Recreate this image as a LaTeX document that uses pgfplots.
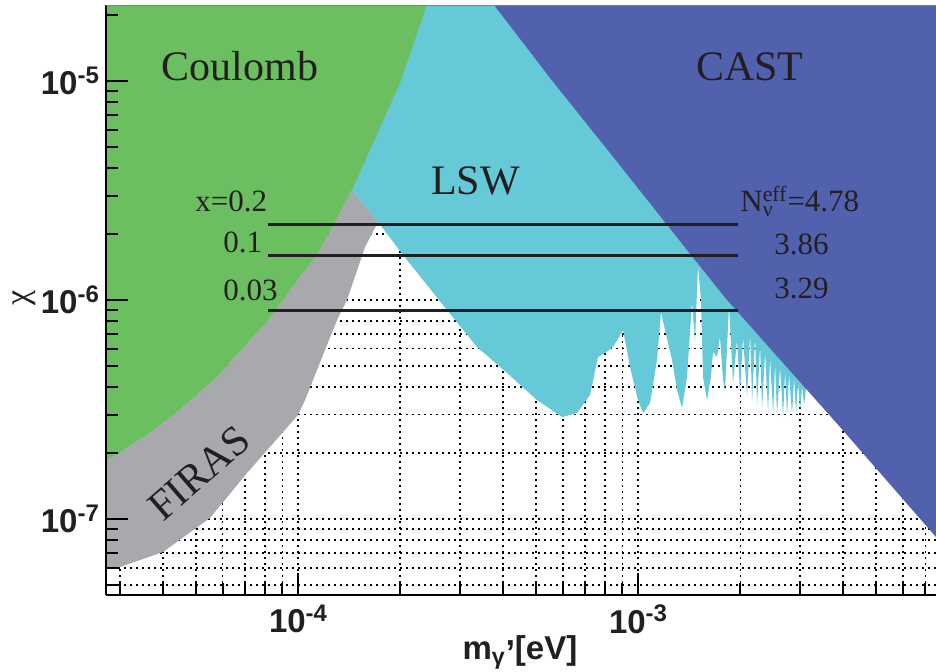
\documentclass[border=0pt]{standalone}
\usepackage{fontspec}
\setmainfont{Liberation Serif}
\setsansfont{Liberation Sans}
\usepackage{pgfplots}
\pgfplotsset{compat=1.18}

\definecolor{coul}{RGB}{108,191,96}
\definecolor{lsw}{RGB}{102,201,216}
\definecolor{cast}{RGB}{81,97,173}
\definecolor{firas}{RGB}{167,169,172}
\definecolor{ink}{RGB}{35,31,32}

\tikzset{
  lbl/.style={font=\fontsize{15.5}{18}\selectfont, text=ink, inner sep=0pt},
  big/.style={font=\fontsize{21}{24}\selectfont, text=ink},
}
% power-of-ten tick label
\newcommand{\tl}[1]{10\raisebox{5.7pt}{\fontsize{12}{12}\selectfont #1}}

\begin{document}
\begin{tikzpicture}

% filled regions and grid
\begin{axis}[
  xmode=log, ymode=log,
  scale only axis, width=415pt, height=295pt,
  xmin=2.724e-5, xmax=7.52e-3,
  ymin=4.498e-8, ymax=2.223e-5,
  xtick={1e-4,1e-3},
  ytick={1e-7,1e-6,1e-5},
  minor xtick={3e-5,4e-5,5e-5,6e-5,7e-5,8e-5,9e-5,2e-4,3e-4,4e-4,5e-4,6e-4,7e-4,8e-4,9e-4,2e-3,3e-3,4e-3,5e-3,6e-3,7e-3},
  minor ytick={5e-8,6e-8,7e-8,8e-8,9e-8,2e-7,3e-7,4e-7,5e-7,6e-7,7e-7,8e-7,9e-7,2e-6,3e-6,4e-6,5e-6,6e-6,7e-6,8e-6,9e-6,2e-5},
  grid=both,
  major grid style={black, line width=0.9pt, dash pattern=on 0.9pt off 2.1pt},
  minor grid style={black, line width=0.9pt, dash pattern=on 0.9pt off 2.1pt},
  axis line style={draw=none}, tick style={draw=none},
  xticklabels={}, yticklabels={},
]

% LSW
\addplot[fill=lsw, draw=none] coordinates {
  (1.4412e-4,3e-5) (1.4412e-4,3.179e-6) (1.7191e-4,2.271e-6)
  (2.0362e-4,1.605e-6) (2.7427e-4,9.0e-7) (3.3614e-4,6.100e-7)
  (4.117e-4,4.642e-7) (5.045e-4,3.493e-7) (5.977e-4,2.922e-7)
  (6.615e-4,3.048e-7) (7.225e-4,3.682e-7) (7.627e-4,5.491e-7)
  (7.996e-4,5.727e-7) (8.443e-4,6.100e-7) (9.035e-4,7.295e-7)
  (9.473e-4,4.944e-7) (1.0e-3,3.493e-7) (1.0344e-3,3.048e-7)
  (1.0846e-3,3.384e-7) (1.1370e-3,5.321e-7) (1.1683e-3,8.815e-7)
  (1.2004e-3,7.295e-7) (1.2589e-3,5.321e-7) (1.3022e-3,3.881e-7)
  (1.3469e-3,3.212e-7) (1.3932e-3,4.451e-7) (1.4412e-3,9.792e-7)
  (1.4706e-3,6.430e-7) (1.5007e-3,1.445e-6) (1.5316e-3,1.0e-6)
  (1.5525e-3,4.451e-7) (1.5949e-3,3.493e-7) (1.6387e-3,4.451e-7)
  (1.6611e-3,5.787e-7) (1.7068e-3,5.491e-7) (1.7417e-3,6.777e-7)
  (1.7783e-3,4.312e-7) (1.8026e-3,3.881e-7) (1.8518e-3,9.489e-7)
  (1.9027e-3,4.178e-7) (1.9548e-3,6.568e-7) (1.9953e-3,3.800e-7)
  (2.0362e-3,6.777e-7) (2.0923e-3,3.605e-7) (2.1352e-3,7.068e-7)
  (2.1644e-3,3.420e-7) (2.2087e-3,6.777e-7) (2.2387e-3,3.281e-7)
  (2.2846e-3,6.230e-7) (2.3159e-3,3.178e-7) (2.3633e-3,5.787e-7)
  (2.4119e-3,3.080e-7) (2.4445e-3,5.434e-7) (2.4951e-3,3.016e-7)
  (2.5287e-3,5.156e-7) (2.5633e-3,2.985e-7) (2.6158e-3,4.944e-7)
  (2.6697e-3,2.953e-7) (2.7063e-3,4.740e-7) (2.7427e-3,2.953e-7)
  (2.7801e-3,4.593e-7) (2.8370e-3,2.985e-7) (2.8759e-3,4.404e-7)
  (2.9151e-3,3.048e-7) (2.9549e-3,4.222e-7) (2.9956e-3,3.145e-7)
  (3.0367e-3,4.048e-7) (3.0776e-3,3.313e-7) (3.1199e-3,3.97e-7)
  (4.201e-3,4.312e-7) (8e-3,4.312e-7) (8e-3,3e-5)
} -- cycle;

% FIRAS
\addplot[fill=firas, draw=none] coordinates {
  (2.5e-5,1.70e-7) (2.724e-5,1.840e-7) (3.670e-5,2.470e-7)
  (4.590e-5,3.246e-7) (5.778e-5,4.451e-7) (7.225e-5,6.568e-7)
  (8.273e-5,8.276e-7) (1.0136e-4,1.274e-6) (1.137e-4,1.605e-6)
  (1.2848e-4,2.271e-6) (1.4412e-4,3.179e-6) (1.7191e-4,2.271e-6)
  (1.5743e-4,1.746e-6) (1.3932e-4,1.0e-6) (1.3108e-4,8.276e-7)
  (1.2675e-4,7.295e-7) (1.2005e-4,5.910e-7) (1.0486e-4,3.493e-7)
  (1.0e-4,2.985e-7) (7.079e-5,1.622e-7) (5.510e-5,1.011e-7)
  (4.007e-5,7.068e-8) (2.996e-5,6.038e-8) (2.724e-5,5.975e-8)
  (2.5e-5,5.91e-8)
} -- cycle;

% Coulomb
\addplot[fill=coul, draw=none] coordinates {
  (2.5e-5,3e-5) (2.5e-5,1.70e-7) (2.724e-5,1.840e-7) (3.670e-5,2.470e-7)
  (4.590e-5,3.246e-7) (5.778e-5,4.451e-7) (7.225e-5,6.568e-7)
  (8.273e-5,8.276e-7) (1.0136e-4,1.274e-6) (1.137e-4,1.605e-6)
  (1.2848e-4,2.271e-6) (1.4412e-4,3.179e-6) (1.6619e-4,5.210e-6)
  (1.9953e-4,9.792e-6) (2.3942e-4,2.223e-5) (2.56e-4,3e-5)
} -- cycle;

% CAST
\addplot[fill=cast, draw=none] coordinates {
  (3.248e-4,3e-5) (3.771e-4,2.223e-5) (5.510e-4,1.032e-5)
  (8.273e-4,4.690e-6) (1.3932e-3,1.692e-6) (1.827e-3,1.0e-6)
  (3.9275e-3,2.630e-7) (7.52e-3,8.276e-8) (8e-3,7.45e-8) (8e-3,3e-5)
} -- cycle;

% N_eff lines
\addplot[ink, line width=1.5pt] coordinates {(8.16e-5,2.201e-6) (1.968e-3,2.201e-6)};
\addplot[ink, line width=1.5pt] coordinates {(8.16e-5,1.605e-6) (1.968e-3,1.605e-6)};
\addplot[ink, line width=1.5pt] coordinates {(8.16e-5,9.0e-7) (1.968e-3,9.0e-7)};

\node[big, anchor=base] at (rel axis cs:0.1614,0.8729) {Coulomb};
\node[big, anchor=base] at (rel axis cs:0.7759,0.8729) {CAST};
\node[big, anchor=base] at (rel axis cs:0.4452,0.678) {LSW};
\node[big, rotate=41] at (rel axis cs:0.112,0.2068) {FIRAS};

\node[lbl, anchor=base west] at (rel axis cs:0.1072,0.6492) {x=0.2};
\node[lbl, anchor=base west] at (rel axis cs:0.141,0.5797) {0.1};
\node[lbl, anchor=base west] at (rel axis cs:0.141,0.5) {0.03};
\node[lbl, anchor=base west] at (rel axis cs:0.7639,0.6492)
  {N\rlap{\textsubscript{ν}}\textsuperscript{eff}=4.78};
\node[lbl, anchor=base west] at (rel axis cs:0.8048,0.5763) {3.86};
\node[lbl, anchor=base west] at (rel axis cs:0.8048,0.5034) {3.29};
\end{axis}

% axis lines, ticks and labels on top
\begin{axis}[
  xmode=log, ymode=log,
  scale only axis, width=415pt, height=295pt,
  xmin=2.724e-5, xmax=7.52e-3,
  ymin=4.498e-8, ymax=2.223e-5,
  xtick={1e-4,1e-3},
  ytick={1e-7,1e-6,1e-5},
  minor xtick={3e-5,4e-5,5e-5,6e-5,7e-5,8e-5,9e-5,2e-4,3e-4,4e-4,5e-4,6e-4,7e-4,8e-4,9e-4,2e-3,3e-3,4e-3,5e-3,6e-3,7e-3},
  minor ytick={5e-8,6e-8,7e-8,8e-8,9e-8,2e-7,3e-7,4e-7,5e-7,6e-7,7e-7,8e-7,9e-7,2e-6,3e-6,4e-6,5e-6,6e-6,7e-6,8e-6,9e-6,2e-5},
  axis x line=bottom, axis y line=left,
  axis line style={-, black, line width=1.4pt},
  tick align=inside,
  major tick length=11pt, minor tick length=6pt,
  tick style={black, line width=1pt},
  xticklabels={\tl{-4},\tl{-3}},
  yticklabels={\tl{-7},\tl{-6},\tl{-5}},
  tick label style={font=\sffamily\bfseries\fontsize{16.5}{19}\selectfont, text=ink},
  xticklabel style={yshift=-1.5pt},
  xlabel={m\textsubscript{γ}\raisebox{0.42em}{,}[eV]},
  xlabel style={font=\sffamily\bfseries\fontsize{16.5}{19}\selectfont, text=ink,
    at={(axis description cs:0.4988,-0.1085)}, anchor=base},
  ylabel={χ},
  ylabel style={font=\fontsize{17}{20}\selectfont, text=ink,
    at={(axis description cs:-0.0988,0.5034)}, anchor=center},
]
\draw[gray, line width=0.5pt] (rel axis cs:0,1) -- (rel axis cs:1,1);
\end{axis}

\pgfresetboundingbox
\path[use as bounding box] (-53pt,-38.5pt) rectangle (415pt,297.5pt);
\end{tikzpicture}
\end{document}
